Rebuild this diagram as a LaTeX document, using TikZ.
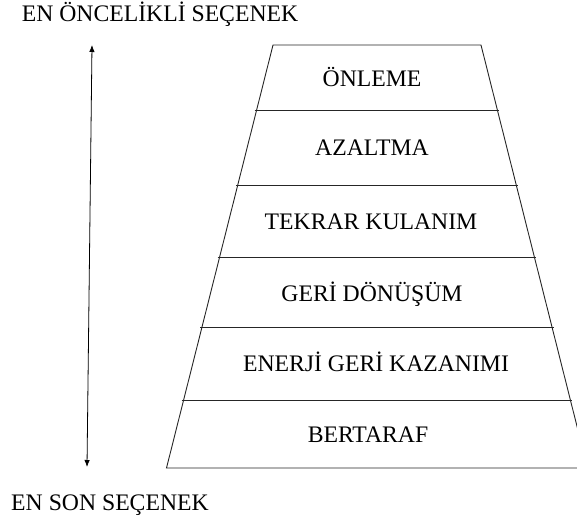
\documentclass[tikz,border=0pt]{standalone}
\usepackage{fontspec}
\setmainfont{Liberation Serif}
\usetikzlibrary{arrows.meta}
\begin{document}
\begin{tikzpicture}[x=1pt,y=-1pt,
  lbl/.style={font=\fontsize{23.7}{27}\selectfont, inner sep=0pt, anchor=center},
  edge/.style={line width=0.9pt, black!85},
  arr/.style={line width=0.8pt, {Latex[length=7pt,width=5.5pt]}-{Latex[length=7pt,width=5.5pt]}}]
\useasboundingbox (0,0) rectangle (577,524);
% trapezoid corners
\coordinate (tl) at (273,45);
\coordinate (tr) at (481,45);
\coordinate (bl) at (166.5,468);
\coordinate (br) at (587.5,468);
\draw[edge] (tl) -- (tr) -- (br) -- (bl) -- cycle;
% separators
\foreach \yy in {110,185,257,327,400}{
  \pgfmathsetmacro{\dx}{(\yy-45)/423*106.5}
  \draw[edge] ({273-\dx-2},\yy) -- ({481+\dx+2},\yy);
}
% level labels
\node[lbl] (l1) at (372,77) {ÖNLEME};
\node[lbl] (l2) at (372,148) {AZALTMA};
\node[lbl] (l3) at (371,222) {TEKRAR KULANIM};
\node[lbl] (l4) at (372,294) {GERİ DÖNÜŞÜM};
\node[lbl] (l5) at (376,362) {ENERJİ GERİ KAZANIMI};
\node[lbl] (l6) at (368,435) {BERTARAF};
% side labels
\node[lbl] (top) at (160,14) {EN ÖNCELİKLİ SEÇENEK};
\node[lbl] (bot) at (110,505) {EN SON SEÇENEK};
% double arrow
\coordinate (atop) at (92,45);
\coordinate (abot) at (87,467);
\draw[arr] (abot) -- (atop);
\end{tikzpicture}
\end{document}
